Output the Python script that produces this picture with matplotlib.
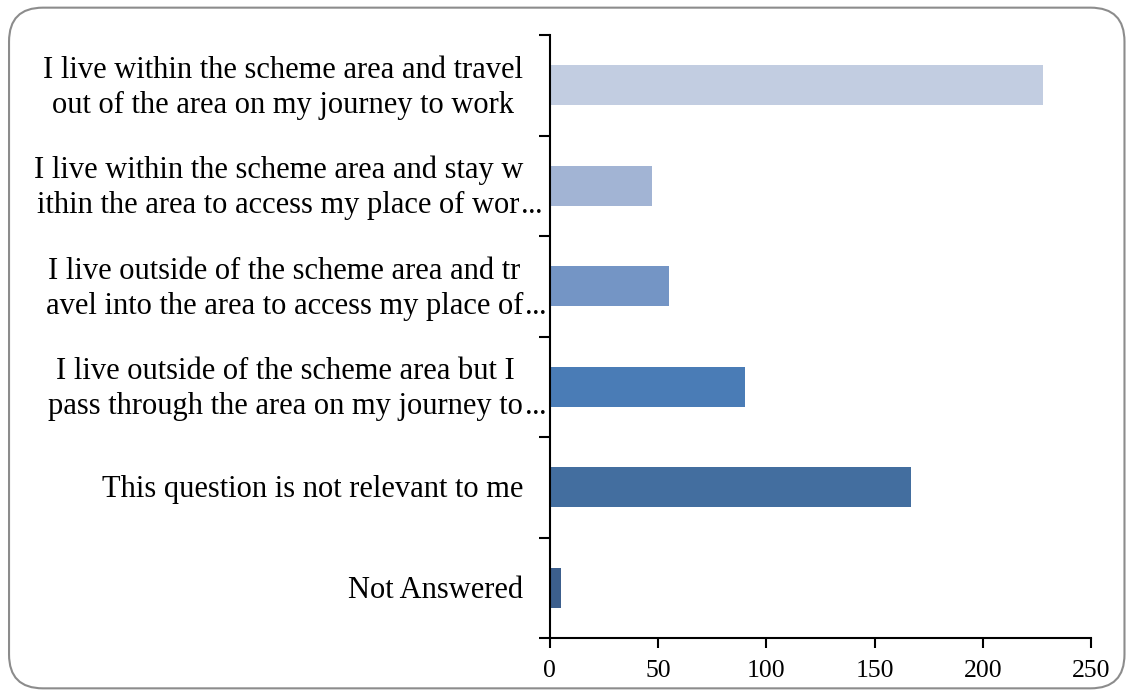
import matplotlib
matplotlib.use("Agg")
import matplotlib.pyplot as plt
from matplotlib.patches import FancyBboxPatch

# survey answers, top to bottom; each entry is the wrapped lines of the label
categories = [
    ["I live within the scheme area and travel", "out of the area on my journey to work"],
    ["I live within the scheme area and stay w", "ithin the area to access my place of wor"],
    ["I live outside of the scheme area and tr", "avel into the area to access my place of"],
    ["I live outside of the scheme area but I", "pass through the area on my journey to"],
    ["This question is not relevant to me"],
    ["Not Answered"],
]
truncated = [False, True, True, True, False, False]
counts = [228, 47, 55, 90, 167, 5]
colors = ["#C2CDE1", "#A2B4D4", "#7495C5", "#4A7CB6", "#436E9F", "#3C5F8D"]
xticks = [0, 50, 100, 150, 200, 250]

plt.rcParams["font.family"] = ["Liberation Serif", "DejaVu Serif"]
LABEL_SIZE = 22
LINE_GAP = 35      # pixels between the baselines of a two-line label
BASE_DROP = 10     # baseline sits this many pixels below the bar centre
LABEL_RIGHT = -27  # pixels from the axis line to the right edge of a label

fig = plt.figure(figsize=(11.29, 6.96), dpi=100)
ax = fig.add_axes([0.4871, 0.0833, 0.4792, 0.8664])

pos = list(range(len(categories)))
ax.barh(pos, counts, height=0.4, color=colors)

ax.set_xlim(0, 250)
ax.set_ylim(len(categories) - 0.5, -0.5)
ax.set_xticks(xticks)
ax.set_xticklabels([str(t) for t in xticks], fontsize=18.5)

# boundary ticks on the category axis
ax.set_yticks([p - 0.5 for p in pos] + [len(pos) - 0.5])
ax.set_yticklabels([])
ax.tick_params(axis="y", length=8, width=1.5, direction="out")
ax.tick_params(axis="x", length=7, width=1.5, direction="out", pad=9)

for s in ["top", "right"]:
    ax.spines[s].set_visible(False)
for s in ["left", "bottom"]:
    ax.spines[s].set_linewidth(1.5)

renderer = fig.canvas.get_renderer()


def text_width(s):
    t = fig.text(0, 0, s, fontsize=LABEL_SIZE)
    w = t.get_window_extent(renderer).width
    t.remove()
    return w


# category labels: lines centred in a block that is right-aligned to the axis,
# with the dots of a cut-off label hanging past the block
ytr = ax.get_yaxis_transform()
for p, lines, cut in zip(pos, categories, truncated):
    widths = [text_width(s) for s in lines]
    block = max(widths)
    cx = LABEL_RIGHT - block / 2
    n = len(lines)
    for i, (s, w) in enumerate(zip(lines, widths)):
        dy = -BASE_DROP - (i - (n - 1) / 2) * LINE_GAP
        ax.annotate(s, xy=(0, p), xycoords=ytr, xytext=(cx, dy),
                    textcoords="offset pixels", ha="center", va="baseline",
                    fontsize=LABEL_SIZE, annotation_clip=False)
        if cut and i == n - 1:
            for k in range(3):
                ax.annotate(".", xy=(0, p), xycoords=ytr,
                            xytext=(cx + w / 2 + 2 + 7 * k, dy),
                            textcoords="offset pixels", ha="left", va="baseline",
                            fontsize=LABEL_SIZE, annotation_clip=False)

# rounded frame around the whole chart
frame = FancyBboxPatch((0.008, 0.011), 0.988, 0.978,
                       boxstyle="round,pad=0,rounding_size=0.03",
                       transform=fig.transFigure, fill=False,
                       edgecolor="#8C8C8C", linewidth=1.5,
                       mutation_aspect=1129 / 696)
fig.patches.append(frame)

fig.savefig("out.png", dpi=100)
